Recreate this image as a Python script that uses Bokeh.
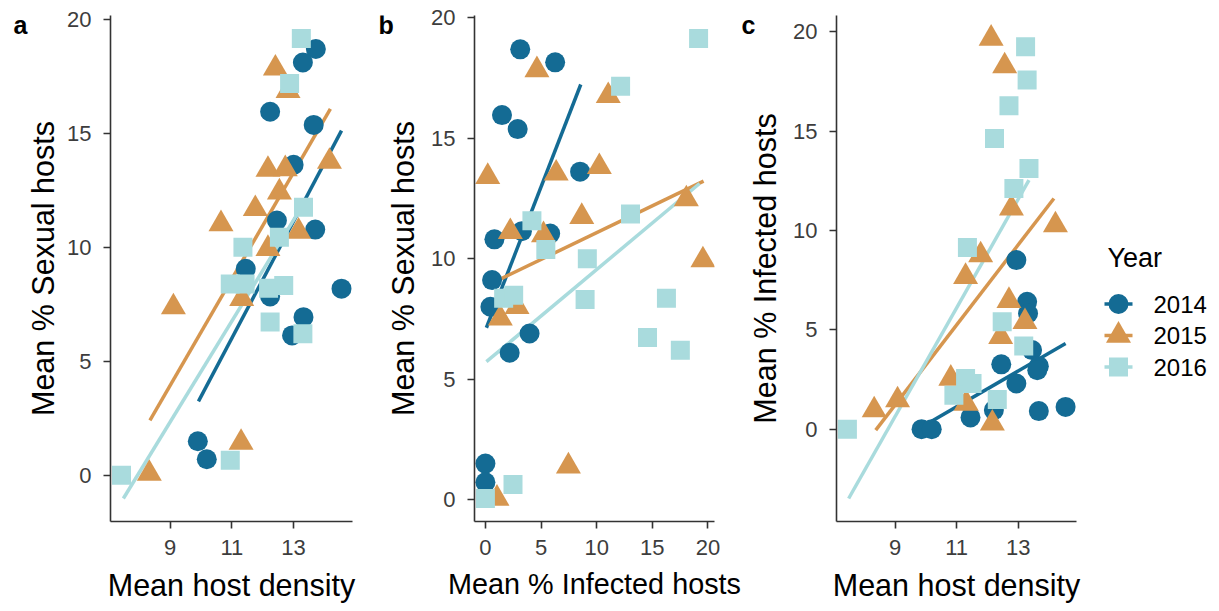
import math
from bokeh.plotting import figure
from bokeh.layouts import row
from bokeh.models import Range1d, FixedTicker
from bokeh.embed import file_html
from bokeh.resources import INLINE
from bokeh.core.properties import value

FONT = "Liberation Sans"

years = ["2014", "2015", "2016"]
colors = ["#146B94", "#D6964F", "#A9DBDD"]
markers = ["circle", "triangle", "square"]
msizes = [20, 25, 19]

# ---------- Panel a: Mean host density vs Mean % Sexual hosts ----------
a_x_2014 = [13.72, 13.30, 12.24, 13.65, 13.00, 12.46, 13.70, 11.45, 12.24, 14.55, 13.32, 12.95, 9.90, 10.19]
a_y_2014 = [18.69, 18.10, 15.94, 15.36, 13.61, 11.17, 10.77, 9.05, 7.84, 8.18, 6.93, 6.13, 1.49, 0.70]
a_x_2015 = [12.41, 12.82, 12.17, 12.73, 14.16, 12.54, 11.76, 10.65, 13.16, 12.17, 9.11, 11.32, 11.30, 8.33]
a_y_2015 = [17.84, 16.86, 13.40, 13.43, 13.75, 12.41, 11.68, 11.02, 10.69, 9.93, 7.37, 7.74, 1.43, 0.07]
a_x_2016 = [13.25, 12.87, 11.36, 10.95, 11.43, 13.32, 12.54, 12.19, 12.68, 12.24, 13.30, 10.95, 7.43]
a_y_2016 = [19.15, 17.18, 10.00, 8.39, 8.39, 11.75, 10.44, 8.20, 8.32, 6.72, 6.20, 0.66, 0.00]
a_fit_x = [[9.92, 14.55], [8.35, 14.19], [7.49, 13.32]]
a_fit_y = [[3.24, 15.11], [2.41, 16.06], [-1.02, 11.90]]

# ---------- Panel b: Mean % Infected hosts vs Mean % Sexual hosts ----------
b_x_2014 = [3.13, 6.27, 1.49, 2.90, 8.51, 0.81, 3.28, 5.82, 0.60, 0.45, 3.97, 2.18, 0.00, 0.00]
b_y_2014 = [18.69, 18.15, 15.96, 15.38, 13.61, 10.80, 11.14, 11.04, 9.11, 8.00, 6.89, 6.09, 1.49, 0.71]
b_x_2015 = [4.63, 11.04, 0.21, 6.36, 10.24, 18.06, 8.66, 2.24, 5.22, 19.55, 2.84, 1.34, 7.46, 1.04]
b_y_2015 = [17.83, 16.76, 13.40, 13.54, 13.81, 12.47, 11.74, 11.11, 10.98, 9.94, 8.00, 7.52, 1.38, 0.04]
b_x_2016 = [19.16, 12.15, 4.18, 13.04, 5.43, 9.16, 1.64, 2.54, 8.96, 16.27, 14.57, 17.52, 2.48, 0.00]
b_y_2016 = [19.14, 17.16, 11.57, 11.85, 10.38, 10.00, 8.35, 8.48, 8.30, 8.35, 6.73, 6.20, 0.62, 0.04]
b_fit_x = [[0.09, 8.57], [1.34, 19.61], [0.09, 19.25]]
b_fit_y = [[7.13, 17.23], [9.15, 13.22], [5.72, 13.12]]

# ---------- Panel c: Mean host density vs Mean % Infected hosts ----------
c_x_2014 = [12.94, 13.29, 13.32, 13.45, 12.45, 13.67, 13.62, 12.94, 12.21, 11.45, 13.67, 14.54, 9.86, 10.19]
c_y_2014 = [8.51, 6.41, 5.82, 3.98, 3.26, 3.17, 2.97, 2.30, 0.96, 0.59, 0.91, 1.12, 0.00, 0.00]
c_x_2015 = [12.12, 12.56, 12.78, 14.21, 11.78, 11.29, 12.70, 13.22, 12.43, 10.81, 11.31, 12.16, 9.08, 8.32]
c_y_2015 = [19.66, 18.27, 11.11, 10.27, 8.76, 7.67, 6.46, 5.40, 4.65, 2.55, 1.29, 0.29, 1.46, 0.96]
c_x_2016 = [13.24, 13.29, 12.70, 12.23, 13.35, 12.86, 11.35, 12.48, 13.18, 11.29, 10.91, 11.50, 12.32, 7.45]
c_y_2016 = [19.24, 17.57, 16.28, 14.63, 13.12, 12.11, 9.14, 5.40, 4.18, 2.55, 1.71, 2.30, 1.49, 0.00]
c_fit_x = [[9.78, 14.54], [8.37, 14.16], [7.49, 13.35]]
c_fit_y = [[0.03, 4.31], [-0.05, 11.61], [-3.49, 12.53]]

density_ticks = [9, 11, 13]
pct_ticks = [0, 5, 10, 15, 20]

H = 611
FRAME_H = 506
TOP = 15
BOTTOM = H - FRAME_H - TOP
AXIS_GAP = 50          # space left of each frame kept for tick labels
Y_CAL = -15            # vertical calibration of the blank (text-only) figures


def expanded(vals, frac=0.05):
    lo, hi = min(vals), max(vals)
    pad = (hi - lo) * frac
    return Range1d(lo - pad, hi + pad)


def blank(width):
    """A figure whose frame is the whole canvas, in top-down pixel units."""
    f = figure(width=width, height=H, frame_width=width, frame_height=H,
               min_border_left=0, min_border_right=0, min_border_top=0,
               min_border_bottom=0, min_border=0, title_location=None,
               x_range=Range1d(0, width), y_range=Range1d(H, 0),
               x_axis_type=None, y_axis_type=None, align="start",
               output_backend="svg", toolbar_location=None)
    f.grid.visible = False
    f.outline_line_color = None
    return f


def gutter(width, letter, letter_x, title, title_x):
    g = blank(width)
    g.text(x=[letter_x], y=[24.5 + Y_CAL], text=[letter], text_font=value(FONT),
           text_font_size="25px", text_font_style="bold", text_color="black",
           text_baseline="middle")
    g.text(x=[title_x], y=[TOP + FRAME_H / 2 + Y_CAL], text=[title], angle=math.pi / 2,
           text_font=value(FONT), text_font_size="30.5px", text_color="black",
           text_align="center", text_baseline="middle")
    return g


def panel(xs, ys, fit_x, fit_y, xticks, yticks, xlabel, frame_w, right, xlab_size="30.5px"):
    all_x = [v for s in xs for v in s] + [v for s in fit_x for v in s]
    all_y = [v for s in ys for v in s] + [v for s in fit_y for v in s]
    p = figure(frame_width=frame_w, frame_height=FRAME_H,
               min_border_left=AXIS_GAP, min_border_right=right,
               min_border_top=TOP, min_border_bottom=BOTTOM, title_location=None,
               x_range=expanded(all_x), y_range=expanded(all_y), align="start",
               output_backend="svg", toolbar_location=None)
    p.grid.visible = False
    p.outline_line_color = None

    for i in range(3):
        p.line(fit_x[i], fit_y[i], line_color=colors[i], line_width=3.5)
    for i in range(3):
        p.scatter(xs[i], ys[i], marker=markers[i], size=msizes[i],
                  fill_color=colors[i], line_color=None)

    for ax, ticks in ((p.xaxis[0], xticks), (p.yaxis[0], yticks)):
        ax.ticker = FixedTicker(ticks=ticks)
        ax.major_label_text_font = FONT
        ax.major_label_text_font_size = "22px"
        ax.major_label_text_color = "#3d3d3d"
        ax.axis_line_color = "#333333"
        ax.axis_line_width = 1.6
        ax.major_tick_line_color = "#333333"
        ax.major_tick_line_width = 1.6
        ax.major_tick_out = 7
        ax.major_tick_in = 0
        ax.minor_tick_line_color = None
    p.xaxis[0].axis_label = xlabel
    p.xaxis[0].axis_label_text_font = FONT
    p.xaxis[0].axis_label_text_font_size = xlab_size
    p.xaxis[0].axis_label_text_font_style = "normal"
    p.xaxis[0].axis_label_text_color = "black"
    p.xaxis[0].major_label_standoff = 11
    p.xaxis[0].axis_label_standoff = 10
    p.yaxis[0].major_label_standoff = 12
    return p


# panel a: gutter 0-60, frame 110-352
ga = gutter(60, "a", 13, "Mean % Sexual hosts", 42.5)
pa = panel([a_x_2014, a_x_2015, a_x_2016], [a_y_2014, a_y_2015, a_y_2016],
           a_fit_x, a_fit_y, density_ticks, pct_ticks, "Mean host density", 242, 8)
# panel b: gutter 360-424, frame 474-714
gb = gutter(64, "b", 18, "Mean % Sexual hosts", 42.5)
pb = panel([b_x_2014, b_x_2015, b_x_2016], [b_y_2014, b_y_2015, b_y_2016],
           b_fit_x, b_fit_y, pct_ticks, pct_ticks, "Mean % Infected hosts", 240, 27,
           xlab_size="28.8px")
# panel c: gutter 741-786, frame 836-1076
gc = gutter(45, "c", 0, "Mean % Infected hosts", 23.5)
pc = panel([c_x_2014, c_x_2015, c_x_2016], [c_y_2014, c_y_2015, c_y_2016],
           c_fit_x, c_fit_y, density_ticks, pct_ticks, "Mean host density", 240, 8)

# ---------- Legend panel ----------
used = 60 + (AXIS_GAP + 242 + 8) + 64 + (AXIS_GAP + 240 + 27) + 45 + (AXIS_GAP + 240 + 8)
LEG_W = 1219 - used
pl = blank(LEG_W)

title_x, title_y = 23, 257.5 + Y_CAL
key_x, key_half, label_x = 34, 14, 69
first_y, step = 303.5 + Y_CAL, 31.5
key_y = [first_y + i * step for i in range(len(years))]

pl.text(x=[title_x], y=[title_y], text=["Year"], text_font=value(FONT),
        text_font_size="27px", text_baseline="middle", text_color="black")
for i in range(len(years)):
    pl.segment(x0=[key_x - key_half], y0=[key_y[i]], x1=[key_x + key_half], y1=[key_y[i]],
               line_color=colors[i], line_width=3.5)
    pl.scatter(x=[key_x], y=[key_y[i]], marker=markers[i], size=msizes[i],
               fill_color=colors[i], line_color=None)
pl.text(x=[label_x] * len(years), y=key_y, text=years, text_font=value(FONT),
        text_font_size="24px", text_baseline="middle", text_color="black")

layout = row(ga, pa, gb, pb, gc, pc, pl, align="start")
open("out.html", "w").write(file_html(layout, INLINE))
